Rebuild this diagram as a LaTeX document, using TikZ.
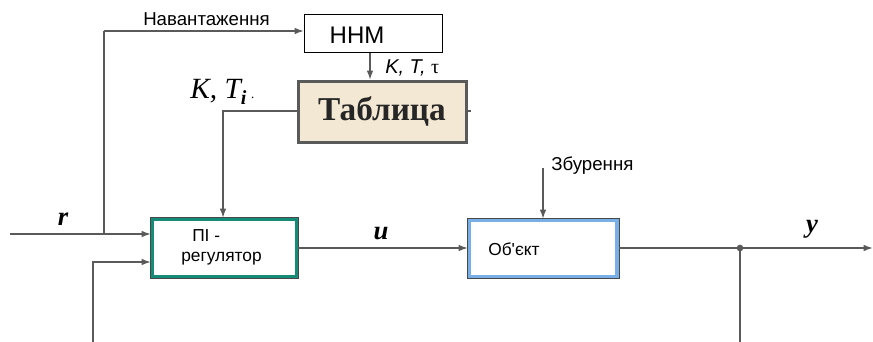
\documentclass[tikz,border=0pt]{standalone}
\usepackage{fontspec}
\setmainfont{Liberation Serif}
\newfontfamily\arialf{Liberation Sans}
\usetikzlibrary{arrows.meta}
\definecolor{linegray}{RGB}{90,90,90}
\definecolor{tealb}{RGB}{20,140,120}
\definecolor{blueb}{RGB}{120,175,230}
\definecolor{beige}{RGB}{243,232,211}
\begin{document}
\begin{tikzpicture}[x=0.75pt,y=-0.75pt,
  conn/.style={draw=linegray, line width=1.3pt},
  arr/.style={conn, -{Latex[length=7pt,width=5pt]}},
  sanslbl/.style={font=\arialf\fontsize{13}{15}\selectfont, inner sep=0pt},
  biglbl/.style={font=\arialf\fontsize{14}{16}\selectfont, inner sep=0pt},
  varlbl/.style={font=\fontsize{20}{22}\selectfont\bfseries\itshape, inner sep=0pt},
  tealbox/.style={draw=tealb, line width=2.6pt, fill=white, minimum width=108pt, minimum height=42.5pt, inner sep=0pt, preaction={draw=linegray!80!black, line width=4pt}},
  bluebox/.style={draw=blueb, line width=2.6pt, fill=white, minimum width=110.5pt, minimum height=42pt, inner sep=0pt, preaction={draw=linegray!80!black, line width=4pt}},
]
\useasboundingbox (0,0) rectangle (873,342);

% boxes
\node[draw=black, line width=0.8pt, minimum width=103.5pt, minimum height=28.5pt, inner sep=0pt, anchor=north west] (nnm) at (304,14) {};
\node[font=\arialf\fontsize{18}{20}\selectfont, inner sep=0pt] (nnmt) at (357,35) {ННМ};

\node[draw=linegray, line width=2pt, fill=beige, minimum width=126pt, minimum height=46pt, inner sep=0pt, anchor=north west] (tab) at (297,80) {};
\node[font=\fontsize{25}{27}\selectfont\bfseries, text=black!85, inner sep=0pt] (tabt) at (382,111) {Таблица};

\node[tealbox, anchor=north west] (pi) at (151,218) {};
\node[sanslbl, anchor=west] (pit1) at (192,236) {ПІ -};
\node[sanslbl, anchor=west] (pit2) at (181,259) {регулятор};

\node[bluebox, anchor=north west] (obj) at (468,219) {};
\node[sanslbl, anchor=west] (objt) at (488,249) {Об'єкт};

% labels
\node[biglbl, anchor=west] (nav) at (143,19) {Навантаження};
\node[font=\arialf\itshape\fontsize{15}{17}\selectfont, inner sep=0pt, anchor=west] (ktt) at (385,68) {K, T, \normalfont τ};
\node[font=\fontsize{22}{24}\selectfont\itshape, inner sep=0pt, anchor=west] (kti) at (190,92) {K, T\raisebox{-4pt}{\fontsize{15}{15}\selectfont\bfseries\itshape i}\,\fontsize{10}{10}\selectfont .};
\node[biglbl, anchor=west] (zb) at (551,166) {Збурення};
\node[varlbl] (rl) at (63,219) {r};
\node[varlbl] (ul) at (381,234) {u};
\node[varlbl] (yl) at (812,229) {y};

% coordinates
\coordinate (rin) at (10,234);
\coordinate (rsplit) at (104,234);
\coordinate (navc) at (104,31);
\coordinate (fbb) at (93,342);
\coordinate (fbc) at (93,262);
\coordinate (tabc) at (223,111);
\coordinate (zbt) at (543,168);
\coordinate (yout) at (873,248);
\coordinate (ysplit) at (740,248);
\coordinate (ybot) at (740,342);

% connectors
\draw[conn] (navc) -- (rsplit);
\draw[arr] (navc) -- (nnm.west |- navc);
\draw[arr] (rin) -- (pi.west |- rin);
\draw[arr] (fbb) -- (fbc) -- (pi.west |- fbc);
\draw[arr] (nnm.south -| 370,0) -- (370,80);
\draw[arr] (tab.west |- tabc) -- (tabc) -- (tabc |- pi.north);
\draw[arr] (pi.east |- 0,248) -- (obj.west |- 0,248);
\draw[arr] (zbt) -- (zbt |- obj.north);
\draw[arr] (obj.east |- yout) -- (yout);
\draw[conn] (ysplit) -- (ybot);
\fill[linegray] (ysplit) circle (2.5pt);
\draw[conn] (tab.east |- 0,111) -- ++(3,0);
\end{tikzpicture}
\end{document}
